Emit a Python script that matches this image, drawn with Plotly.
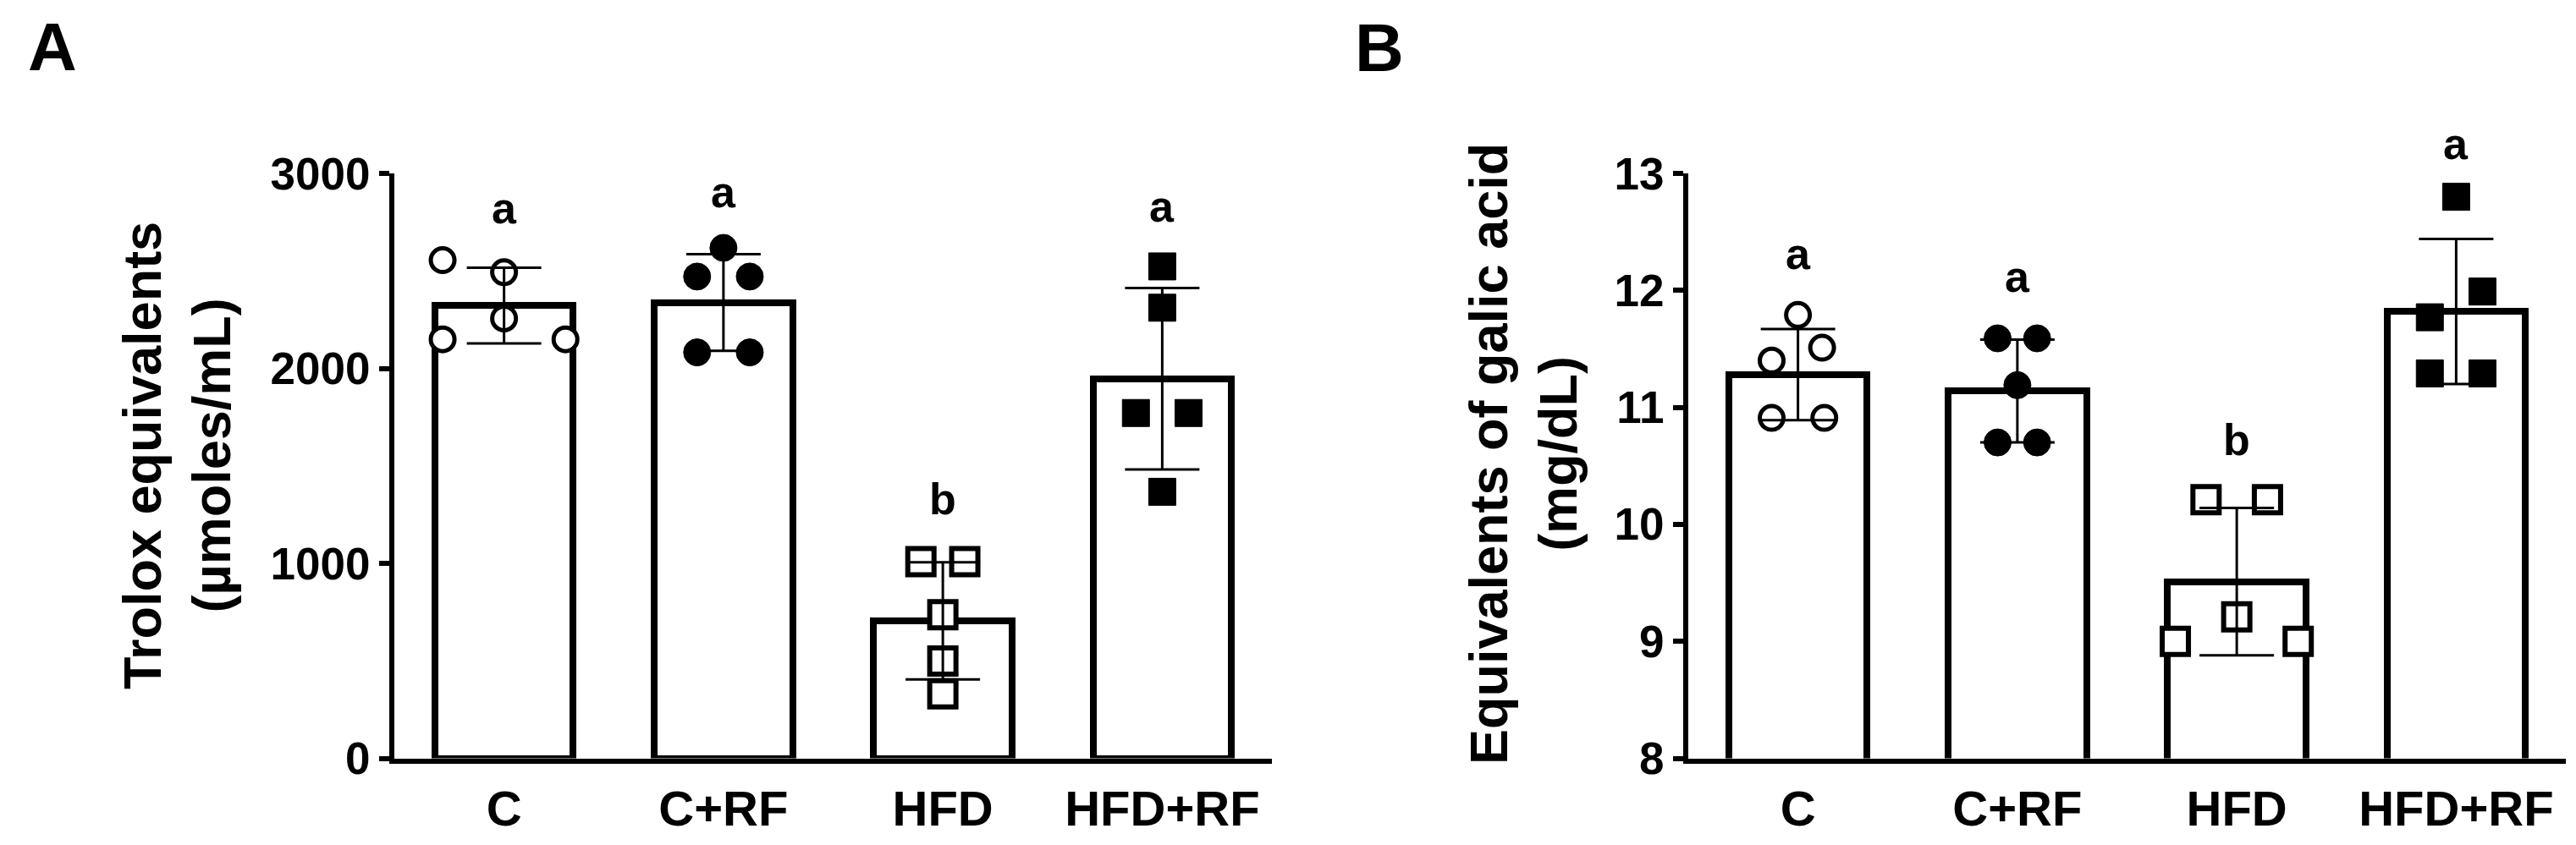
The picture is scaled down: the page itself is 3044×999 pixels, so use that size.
import plotly.graph_objects as go

groups = ["C", "C+RF", "HFD", "HFD+RF"]
letters = ["a", "a", "b", "a"]

# Panel A: Trolox equivalents (µmoles/mL)
trolox_mean = [2322, 2338, 705, 1947]
trolox_sd = [194, 248, 300, 465]
trolox_points = [
    [2555, 2493, 2256, 2149, 2149],
    [2618, 2471, 2471, 2082, 2082],
    [1009, 1009, 736, 499, 331],
    [2523, 2311, 1771, 1771, 1367],
]
trolox_letter_y = [2822, 2906, 1329, 2832]
trolox_range = [0, 3000]

# Panel B: gallic acid equivalents (mg/dL)
galic_mean = [11.28, 11.14, 9.51, 11.82]
galic_sd = [0.39, 0.44, 0.63, 0.62]
galic_points = [
    [11.79, 11.40, 11.51, 10.91, 10.91],
    [11.59, 11.59, 11.19, 10.70, 10.70],
    [10.21, 10.21, 9.21, 9.00, 9.00],
    [12.80, 11.99, 11.77, 11.29, 11.29],
]
galic_letter_y = [12.31, 12.12, 10.72, 13.25]
galic_range = [8, 13]

# horizontal scatter of the dots inside each bar (fraction of a category)
trolox_jitter = [
    [-0.28, 0, 0, -0.28, 0.28],
    [0, -0.12, 0.12, -0.12, 0.12],
    [-0.1, 0.1, 0, 0, 0],
    [0, 0, -0.12, 0.12, 0],
]
galic_jitter = [
    [0, -0.12, 0.11, -0.12, 0.12],
    [-0.09, 0.09, 0, -0.09, 0.09],
    [-0.14, 0.14, 0, -0.28, 0.28],
    [0, 0.12, -0.12, -0.12, 0.12],
]

W, H = 3044, 999
FONT = "Liberation Sans"

symbols = [
    dict(symbol="circle", color="white", size=28, line=dict(color="black", width=5)),
    dict(symbol="circle", color="black", size=32, line=dict(color="black", width=1)),
    dict(symbol="square", color="white", size=31, line=dict(color="black", width=6)),
    dict(symbol="square", color="black", size=32, line=dict(color="black", width=1)),
]

fig = go.Figure()


def add_panel(means, sds, points, jitter, letter_y, yrange, xa, ya):
    xs = list(range(len(groups)))
    fig.add_trace(go.Bar(
        x=xs, y=means, width=0.63,
        marker=dict(color="white", line=dict(color="black", width=8)),
        xaxis=xa, yaxis=ya, showlegend=False,
    ))
    for i, pts in enumerate(points):
        fig.add_trace(go.Scatter(
            x=[i + j for j in jitter[i]], y=pts, mode="markers",
            marker=symbols[i], xaxis=xa, yaxis=ya, showlegend=False,
            cliponaxis=False,
        ))
    fig.add_trace(go.Scatter(
        x=xs, y=means, mode="markers",
        marker=dict(size=1, opacity=0),
        error_y=dict(type="data", array=sds, visible=True,
                     color="black", thickness=3, width=44),
        xaxis=xa, yaxis=ya, showlegend=False,
    ))
    # significance letters (may sit above the axis top, so use domain refs)
    lo, hi = yrange
    for i, t in enumerate(letters):
        fig.add_annotation(
            x=i, xref=xa, y=(letter_y[i] - lo) / (hi - lo), yref=ya + " domain",
            text=t, showarrow=False, yanchor="middle",
            font=dict(family=FONT, size=52, color="black", weight="bold"),
        )


add_panel(trolox_mean, trolox_sd, trolox_points, trolox_jitter,
          trolox_letter_y, trolox_range, "x", "y")
add_panel(galic_mean, galic_sd, galic_points, galic_jitter,
          galic_letter_y, galic_range, "x2", "y2")

xdomA = [458 / W, 1495 / W]
xdomB = [1987 / W, 3024 / W]
ydom = [1 - 888.5 / H, 1 - 197 / H]

xaxis_style = dict(
    range=[-0.5, 3.5], tickvals=[0, 1, 2, 3], ticktext=groups,
    showline=True, linecolor="black", linewidth=6, ticks="",
    showgrid=False, zeroline=False, ticklabelstandoff=4, automargin=False,
    tickfont=dict(family=FONT, size=58, color="black", weight="bold"),
)
yaxis_style = dict(
    showline=True, linecolor="black", linewidth=6,
    ticks="outside", ticklen=12, tickwidth=6, tickcolor="black",
    showgrid=False, zeroline=False, automargin=False,
    tickfont=dict(family=FONT, size=53, color="black", weight="bold"),
)

fig.update_layout(
    width=W, height=H,
    margin=dict(l=0, r=0, t=0, b=0, autoexpand=False),
    paper_bgcolor="white", plot_bgcolor="white",
    bargap=0,
    xaxis=dict(domain=xdomA, anchor="y", **xaxis_style),
    yaxis=dict(domain=ydom, anchor="x", range=trolox_range,
               tickvals=[0, 1000, 2000, 3000], **yaxis_style),
    xaxis2=dict(domain=xdomB, anchor="y2", **xaxis_style),
    yaxis2=dict(domain=ydom, anchor="x2", range=galic_range,
                tickvals=[8, 9, 10, 11, 12, 13], **yaxis_style),
)

title_font = dict(family=FONT, size=63, color="black", weight="bold")
fig.add_annotation(x=201 / W, y=1 - 531 / H, xref="paper", yref="paper",
                   text="Trolox equivalents<br>(µmoles/mL)", textangle=-90,
                   showarrow=False, font=title_font,
                   xanchor="center", yanchor="middle")
fig.add_annotation(x=1792 / W, y=1 - 529 / H, xref="paper", yref="paper",
                   text="Equivalents of galic acid<br>(mg/dL)", textangle=-90,
                   showarrow=False, font=title_font,
                   xanchor="center", yanchor="middle")

panel_font = dict(family=FONT, size=80, color="black", weight="bold")
fig.add_annotation(x=54 / W, y=1 - 47 / H, xref="paper", yref="paper", text="A",
                   showarrow=False, font=panel_font, xanchor="center", yanchor="middle")
fig.add_annotation(x=1622 / W, y=1 - 48 / H, xref="paper", yref="paper", text="B",
                   showarrow=False, font=panel_font, xanchor="center", yanchor="middle")

fig.write_html("out.html")
